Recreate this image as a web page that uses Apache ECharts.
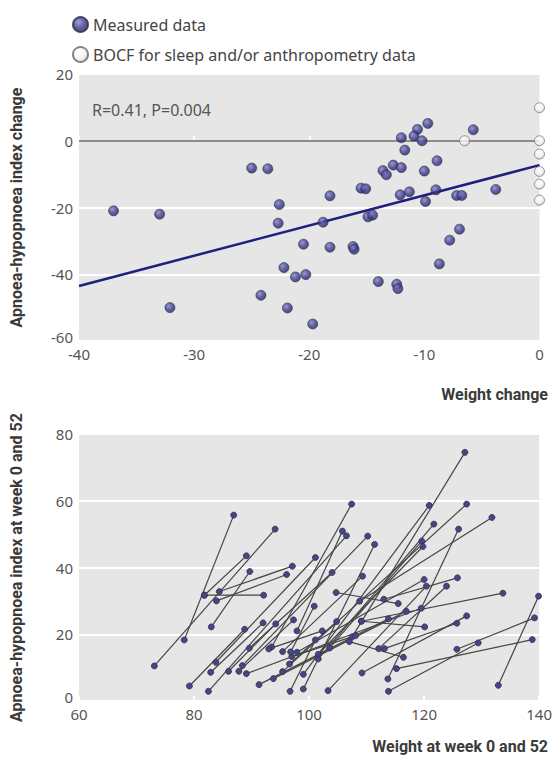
<!DOCTYPE html>
<html>
<head>
<meta charset="utf-8">
<script src="https://cdn.jsdelivr.net/npm/echarts@6/dist/echarts.min.js"></script>
<style>
html,body{margin:0;padding:0;background:#fff;}
#chart{width:555px;height:759px;}
</style>
</head>
<body>
<div id="chart"></div>
<script>
// ---- Top panel: change in weight vs change in AHI ----
const measuredWeightChange = [-37,-33,-32.1,-25,-23.6,-22.6,-22.7,-20.5,-22.2,-21.2,-20.3,-24.2,-21.9,-19.7,-9.7,-5.75,-10.6,-10.9,-12,-10.2,-11.7,-8.9,-12.7,-12,-13.6,-13.3,-10,-15.5,-15.1,-18.2,-12.1,-11.3,-9,-9.9,-7.2,-6.75,-3.8,-18.8,-14.9,-14.5,-18.2,-16.2,-16.1,-6.95,-7.8,-8.7,-14,-12.4,-12.3];
const measuredAhiChange    = [-21,-22,-50,-8.2,-8.4,-19.1,-24.7,-31,-38,-40.8,-40.1,-46.3,-50.1,-54.9,5.2,3.3,3.4,1.4,0.9,0,-2.8,-6,-7.3,-8.05,-8.95,-10.2,-9.1,-14.2,-14.4,-16.5,-16.2,-15.3,-14.7,-18.2,-16.4,-16.4,-14.6,-24.4,-22.8,-22.3,-31.9,-31.7,-32.5,-26.5,-29.8,-36.9,-42.2,-43,-44.3];
const bocfWeightChange = [0,-6.5,0,0,0,0,0];
const bocfAhiChange    = [9.9,0,0,-4,-9.2,-13,-17.8];
const fitWeight = [-40, 0];
const fitAhi    = [-43.5, -7.3];
const topXTicks = {min:-40, max:0, interval:10};
const topYTicks = {min:-60, max:20, interval:20};

// ---- Bottom panel: paired week 0 / week 52 values ----
const weightWeek52 = [73.1,78.3,81.8,81.8,107.5,93.5,99.0,132.9,125.7,113.8,115.2,109.1,109.2,113.1,108.8,113.0,112.1,103.6,101.6,101.6,95.4,113.7,88.4,99.0,97.9,82.5,83.0,84.4,83.9,104.7,109.1,107.0,83.8,95.4,89.6,103.3,97.9,93.8,91.3,96.7,79.2,82.9,86.0,87.8,93.0,97.0,96.6,89.1,96.8];
const ahiWeek52    = [10.5,18.3,31.7,31.7,19.2,16.2,8.0,4.7,15.5,2.9,9.7,23.9,8.4,15.7,29.9,30.5,15.7,15.9,14.0,12.6,8.8,6.6,10.6,3.6,21.0,2.9,22.2,32.8,30.0,32.5,23.9,17.8,11.6,14.8,15.8,3.1,14.6,6.7,4.9,2.9,4.5,8.6,8.9,8.9,15.6,13.3,11.1,8.2,14.7];
const weightWeek0  = [94.1,86.9,92.1,89.1,127.1,107.4,120.9,139.9,139.2,129.4,138.8,133.7,127.4,125.7,131.8,125.8,123.9,119.6,119.8,121.7,127.4,126.0,110.2,111.4,105.8,106.5,89.7,97.1,96.1,115.5,120.1,116.4,101.1,109.3,104.0,120.4,120.0,116.9,113.8,101.1,88.8,92.0,94.2,97.3,102.3,108.1,104.8,119.5,100.9];
const ahiWeek0     = [51.5,55.7,31.7,43.5,74.5,59.0,58.6,31.4,24.9,17.4,18.4,32.3,25.5,23.3,55.0,36.9,34.4,47.9,46.3,53.0,59.0,51.5,49.4,46.9,50.9,49.5,38.8,40.4,37.9,29.2,22.2,13.1,43.0,37.4,38.5,34.4,36.4,26.9,24.6,18.3,21.5,23.4,23.1,24.3,21.0,19.6,23.8,27.8,28.4];
const botXTicks = {min:60, max:140, interval:20};
const botYTicks = {min:0, max:80, interval:20};

const navyBall = {type:'radial', x:0.38, y:0.35, r:0.7, colorStops:[{offset:0,color:'#8584c8'},{offset:0.55,color:'#3c3b90'},{offset:1,color:'#22215c'}]};
const whiteBall = {type:'radial', x:0.38, y:0.35, r:0.7, colorStops:[{offset:0,color:'#ffffff'},{offset:0.6,color:'#f2f2f2'},{offset:1,color:'#c8c8c8'}]};

const tickFont = {color:'#555', fontSize:15, fontFamily:'Noto Sans'};
const titleFont = {color:'#3a3a3a', fontSize:16, fontWeight:'bold', fontFamily:'Roboto'};

function xAxisCfg(grid, t){
  return {type:'value', gridIndex:grid, min:t.min, max:t.max, interval:t.interval,
    axisLine:{show:false}, splitLine:{show:false},
    axisTick:{show:true, inside:true, length:5, lineStyle:{color:'#ffffff', width:2}},
    axisLabel:Object.assign({margin:5}, tickFont)};
}
function yAxisCfg(grid, t, name){
  return {type:'value', gridIndex:grid, min:t.min, max:t.max, interval:t.interval,
    name:name, nameLocation:'middle', nameGap:55, nameRotate:90, nameTextStyle:titleFont,
    axisLine:{show:false}, axisTick:{show:false},
    splitLine:{show:true, lineStyle:{color:'#ffffff', width:2}},
    axisLabel:Object.assign({margin:6,
      formatter:function(v){ return v === t.min ? '{low|' + v + '}' : String(v); },
      rich:{low:{color:'#555', fontSize:15, fontFamily:'Noto Sans', padding:[0,0,9,0]}}
    }, tickFont)};
}

const series = [];
series.push({
  name:'Measured data', type:'scatter', xAxisIndex:0, yAxisIndex:0, z:5,
  data: measuredWeightChange.map((w,i)=>[w, measuredAhiChange[i]]),
  symbolSize:10, itemStyle:{color:navyBall, borderColor:'#2a2a3a', borderWidth:0.7},
  markLine:{silent:true, symbol:'none', label:{show:false}, lineStyle:{color:'#666', width:1.5, type:'solid'}, data:[{yAxis:0}]}
});
series.push({
  name:'BOCF for sleep and/or anthropometry data', type:'scatter', xAxisIndex:0, yAxisIndex:0, z:5,
  data: bocfWeightChange.map((w,i)=>[w, bocfAhiChange[i]]),
  symbolSize:10, itemStyle:{color:whiteBall, borderColor:'#666', borderWidth:0.8}
});
series.push({
  type:'line', xAxisIndex:0, yAxisIndex:0, z:4, silent:true, showSymbol:false,
  data: fitWeight.map((w,i)=>[w, fitAhi[i]]),
  lineStyle:{color:'#1f1f80', width:2.5}
});
for (let i=0;i<weightWeek0.length;i++){
  series.push({
    type:'line', xAxisIndex:1, yAxisIndex:1, silent:true,
    data:[[weightWeek52[i], ahiWeek52[i]],[weightWeek0[i], ahiWeek0[i]]],
    symbol:'circle', symbolSize:6, showSymbol:true,
    lineStyle:{color:'#454545', width:1.2},
    itemStyle:{color:'#45448f', borderColor:'#333', borderWidth:0.8}
  });
}

const chart = echarts.init(document.getElementById('chart'), null, {renderer:'svg'});
chart.setOption({
  animation:false,
  backgroundColor:'#ffffff',
  legend:{
    data:['Measured data','BOCF for sleep and/or anthropometry data'],
    orient:'vertical', left:67, top:11, itemGap:13, itemWidth:15, itemHeight:15,
    icon:'circle', textStyle:{color:'#444', fontSize:16, fontFamily:'Noto Sans'}
  },
  title:[
    {text:'R=0.41, P=0.004', left:87, top:97, textStyle:{color:'#555', fontSize:16, fontWeight:'normal', fontFamily:'Noto Sans'}},
    {text:'Weight change', right:2, top:381, textStyle:titleFont},
    {text:'Weight at week 0 and 52', right:2, top:736, padding:[2,5,2,5], textStyle:titleFont}
  ],
  grid:[
    {left:74, right:15.5, top:74, height:267, show:true, backgroundColor:'#e6e6e6', borderWidth:0},
    {left:74, right:15.5, top:434, height:267, show:true, backgroundColor:'#e6e6e6', borderWidth:0}
  ],
  xAxis:[xAxisCfg(0, topXTicks), xAxisCfg(1, botXTicks)],
  yAxis:[yAxisCfg(0, topYTicks, 'Apnoea-hypopnoea index change'), yAxisCfg(1, botYTicks, 'Apnoea-hypopnoea index at week 0 and 52')],
  series:series
});
</script>
</body>
</html>
